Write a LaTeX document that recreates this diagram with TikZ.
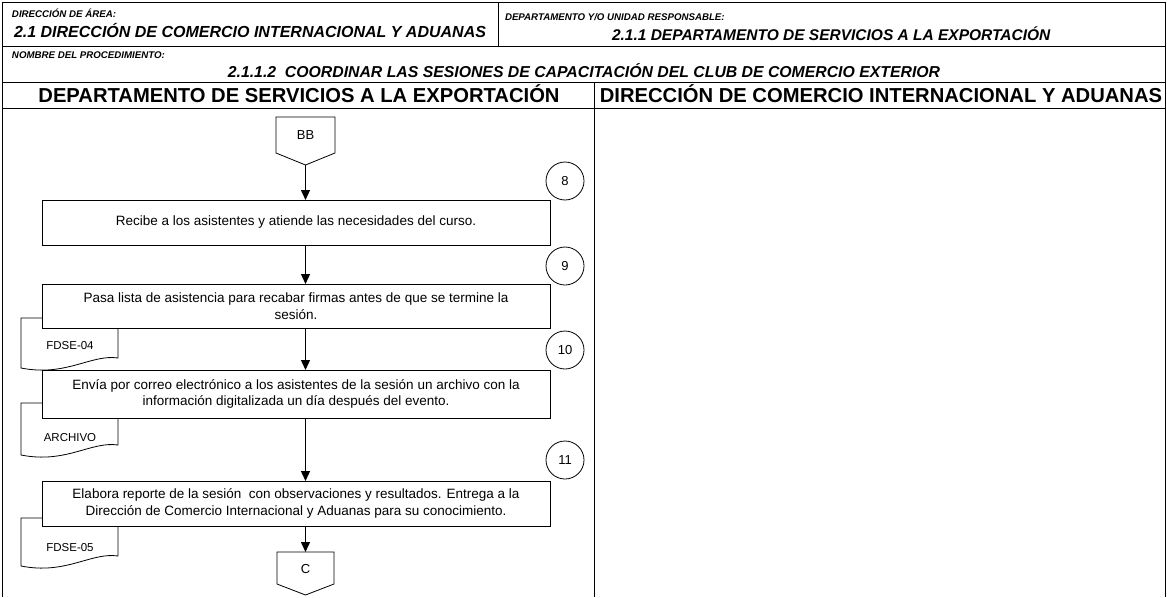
\documentclass[tikz,border=0pt]{standalone}
\usepackage{fontspec}
\setmainfont{Liberation Sans}
\usetikzlibrary{arrows.meta}
\newcommand{\mydoc}[3]{% left, top, bottom-left
  \draw[docline] (#1,#2) -- (#1+97,#2) -- (#1+97,#3-10)
    .. controls (#1+70,#3-14) and (#1+45,#3+9) .. (#1,#3) -- cycle;}
\begin{document}
\begin{tikzpicture}[x=1pt,y=-1pt,
  every node/.style={inner sep=0pt,outer sep=0pt},
  frame/.style={line width=1pt},
  smalllab/.style={font=\fontsize{9.7}{11}\selectfont\bfseries\itshape,anchor=base west},
  biglab/.style={font=\fontsize{16}{18}\selectfont\bfseries\itshape,anchor=base west},
  lanehead/.style={font=\fontsize{20.2}{23}\selectfont\bfseries,anchor=base},
  procbox/.style={draw,fill=white,line width=0.8pt,minimum width=508pt,align=center,
    font=\fontsize{13.5}{16.5}\selectfont},
  conn/.style={draw,line width=0.8pt},
  numcirc/.style={circle,draw,line width=0.8pt,minimum size=38pt,font=\fontsize{13}{15}\selectfont},
  docline/.style={draw,fill=white,line width=0.8pt},
  doctext/.style={font=\fontsize{11.5}{13}\selectfont},
  conntext/.style={font=\fontsize{13}{15}\selectfont},
  arr/.style={line width=1.3pt,-{Triangle[length=10pt,width=9pt]}},
  ]
\useasboundingbox (0,0) rectangle (1167,597);
% frame
\draw[frame] (2,597) -- (2,2) -- (1165,2) -- (1165,597);
\draw[frame] (2,46) -- (1165,46);
\draw[frame] (498,2) -- (498,46);
\draw[frame] (2,82) -- (1165,82);
\draw[frame] (2,108) -- (1165,108);
\draw[frame] (594,82) -- (594,597);
% header texts
\node[smalllab] (hlab1) at (12,17) {DIRECCIÓN DE ÁREA:};
\node[biglab] (hval1) at (14,37) {2.1 DIRECCIÓN DE COMERCIO INTERNACIONAL Y ADUANAS};
\node[smalllab] (hlab2) at (505,20) {DEPARTAMENTO Y/O UNIDAD RESPONSABLE:};
\node[biglab,font=\fontsize{15.5}{17}\selectfont\bfseries\itshape] (hval2) at (612,40) {2.1.1 DEPARTAMENTO DE SERVICIOS A LA EXPORTACIÓN};
\node[smalllab] (hlab3) at (12,58) {NOMBRE DEL PROCEDIMIENTO:};
\node[font=\fontsize{15.8}{18}\selectfont\bfseries\itshape,anchor=base] (title) at (584,77) {2.1.1.2\ \ COORDINAR LAS SESIONES DE CAPACITACIÓN DEL CLUB DE COMERCIO EXTERIOR};
\node[lanehead] (lane1) at (299,102) {DEPARTAMENTO DE SERVICIOS A LA EXPORTACIÓN};
\node[lanehead] (lane2) at (881,102) {DIRECCIÓN DE COMERCIO INTERNACIONAL Y ADUANAS};
% off-page connector BB
\draw[conn] (276,117) -- (335,117) -- (335,153) -- (305.5,165) -- (276,153) -- cycle;
\node[conntext] (bb) at (305.5,135) {BB};
\coordinate (bbtip) at (305.5,165);
% documents (behind boxes)
\mydoc{21}{318}{368}
\node[doctext] (d1) at (70,346) {FDSE-04};
\mydoc{21}{403}{455}
\node[doctext] (d2) at (70,438) {ARCHIVO};
\mydoc{21}{518}{566}
\node[doctext] (d3) at (70,548) {FDSE-05};
% process boxes
\node[procbox,minimum height=45pt] (b1) at (296,222.5) {Recibe a los asistentes y atiende las necesidades del curso.};
\node[procbox,minimum height=44pt] (b2) at (296,306) {Pasa lista de asistencia para recabar firmas antes de que se termine la\\sesión.};
\node[procbox,minimum height=48pt] (b3) at (296,394) {Envía por correo electrónico a los asistentes de la sesión un archivo con la\\información digitalizada un día después del evento.};
\node[procbox,minimum height=45pt] (b4) at (296,503.5) {Elabora reporte de la sesión\ \ con observaciones y resultados. Entrega a la\\Dirección de Comercio Internacional y Aduanas para su conocimiento.};
% step numbers
\node[numcirc] (n8) at (565,181) {8};
\node[numcirc] (n9) at (565,266) {9};
\node[numcirc] (n10) at (565,350) {10};
\node[numcirc] (n11) at (565,460) {11};
% off-page connector C
\coordinate (ctop) at (305.5,552);
\draw[conn] (277,552) -- (334,552) -- (334,584) -- (305.5,595) -- (277,584) -- cycle;
\node[conntext] (cc) at (305.5,569) {C};
% arrows
\draw[arr] (bbtip) -- (bbtip |- b1.north);
\draw[arr] (bbtip |- b1.south) -- (bbtip |- b2.north);
\draw[arr] (bbtip |- b2.south) -- (bbtip |- b3.north);
\draw[arr] (bbtip |- b3.south) -- (bbtip |- b4.north);
\draw[arr] (bbtip |- b4.south) -- (ctop);
\end{tikzpicture}
\end{document}
